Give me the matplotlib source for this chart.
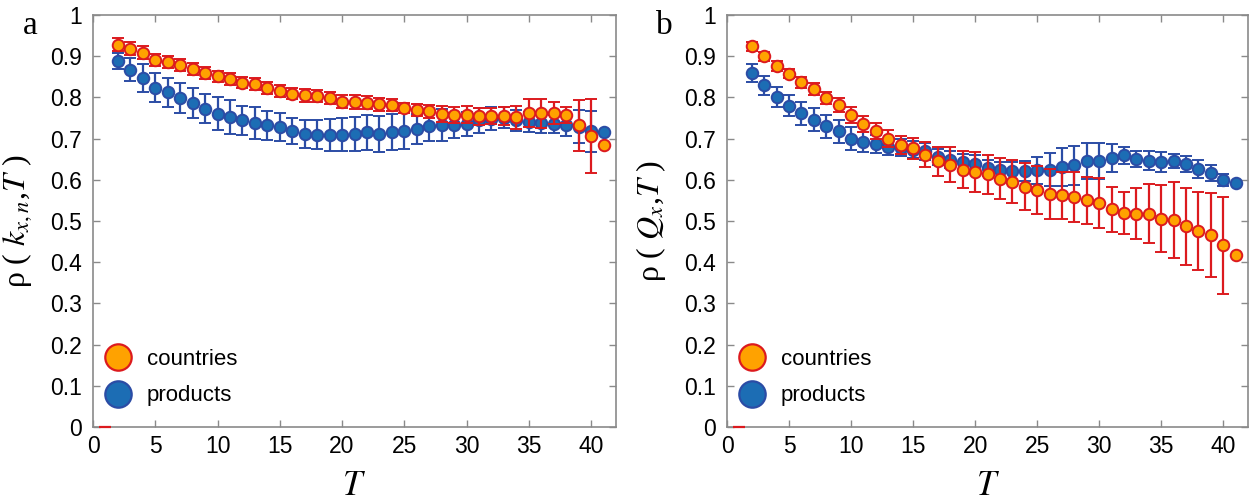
import matplotlib
matplotlib.use("Agg")
import matplotlib.pyplot as plt
from matplotlib.lines import Line2D
import numpy as np

# ---------------- data ----------------
T = list(range(2, 42))

# panel a : rho(k_{x,n}, T)
a_countries = [0.928, 0.918, 0.908, 0.891, 0.886, 0.878, 0.869, 0.859, 0.851, 0.845,
               0.836, 0.832, 0.823, 0.815, 0.809, 0.805, 0.803, 0.798, 0.790, 0.789,
               0.787, 0.783, 0.781, 0.774, 0.769, 0.766, 0.760, 0.758, 0.758, 0.754,
               0.755, 0.755, 0.752, 0.763, 0.761, 0.762, 0.757, 0.732, 0.706, 0.684]
a_countries_err = [0.016, 0.016, 0.016, 0.015, 0.015, 0.015, 0.015, 0.014, 0.014, 0.014,
                   0.014, 0.014, 0.014, 0.014, 0.014, 0.015, 0.015, 0.015, 0.016, 0.016,
                   0.016, 0.015, 0.014, 0.013, 0.015, 0.016, 0.019, 0.019, 0.020, 0.020,
                   0.020, 0.022, 0.028, 0.034, 0.035, 0.027, 0.019, 0.062, 0.090, 0.0]
a_products = [0.888, 0.867, 0.847, 0.824, 0.812, 0.798, 0.786, 0.773, 0.760, 0.753,
              0.744, 0.738, 0.732, 0.728, 0.718, 0.712, 0.709, 0.709, 0.709, 0.711,
              0.715, 0.712, 0.716, 0.718, 0.723, 0.731, 0.732, 0.732, 0.736, 0.744,
              0.748, 0.751, 0.744, 0.740, 0.739, 0.736, 0.732, 0.729, 0.718, 0.715]
a_products_err = [0.019, 0.028, 0.034, 0.036, 0.036, 0.036, 0.036, 0.035, 0.040, 0.041,
                  0.036, 0.039, 0.036, 0.034, 0.032, 0.034, 0.035, 0.038, 0.040, 0.041,
                  0.043, 0.044, 0.044, 0.044, 0.037, 0.037, 0.039, 0.030, 0.029, 0.031,
                  0.028, 0.025, 0.025, 0.025, 0.025, 0.022, 0.025, 0.040, 0.050, 0.0]

# panel b : rho(Q_x, T)
b_countries = [0.924, 0.900, 0.877, 0.858, 0.837, 0.821, 0.799, 0.781, 0.757, 0.736,
               0.718, 0.700, 0.685, 0.676, 0.661, 0.645, 0.637, 0.625, 0.619, 0.613,
               0.603, 0.595, 0.583, 0.575, 0.566, 0.562, 0.558, 0.550, 0.544, 0.528,
               0.519, 0.518, 0.518, 0.506, 0.502, 0.487, 0.476, 0.465, 0.441, 0.418]
b_countries_err = [0.011, 0.011, 0.012, 0.012, 0.013, 0.014, 0.015, 0.017, 0.019, 0.020,
                   0.020, 0.021, 0.022, 0.025, 0.030, 0.035, 0.042, 0.046, 0.048, 0.047,
                   0.050, 0.052, 0.057, 0.058, 0.061, 0.058, 0.060, 0.057, 0.060, 0.054,
                   0.051, 0.061, 0.071, 0.082, 0.093, 0.093, 0.095, 0.102, 0.117, 0.0]
b_products = [0.859, 0.829, 0.801, 0.780, 0.761, 0.746, 0.730, 0.718, 0.700, 0.692,
              0.686, 0.680, 0.678, 0.673, 0.669, 0.655, 0.649, 0.643, 0.639, 0.629,
              0.623, 0.621, 0.621, 0.623, 0.625, 0.631, 0.635, 0.645, 0.646, 0.653,
              0.659, 0.651, 0.646, 0.643, 0.646, 0.639, 0.627, 0.616, 0.599, 0.592]
b_products_err = [0.022, 0.024, 0.025, 0.026, 0.027, 0.028, 0.028, 0.028, 0.027, 0.025,
                  0.022, 0.020, 0.020, 0.020, 0.020, 0.020, 0.020, 0.020, 0.020, 0.020,
                  0.020, 0.022, 0.025, 0.033, 0.040, 0.045, 0.047, 0.044, 0.043, 0.035,
                  0.020, 0.020, 0.023, 0.025, 0.017, 0.019, 0.022, 0.019, 0.015, 0.0]

# stray countries mark at T = 1 (value 0)
T_stray = [1]
stray_val = [0.0]

series_names = ["countries", "products"]
x_ticks = [0, 5, 10, 15, 20, 25, 30, 35, 40]
y_ticks = [0, 0.1, 0.2, 0.3, 0.4, 0.5, 0.6, 0.7, 0.8, 0.9, 1]
y_tick_labels = ["0", "0.1", "0.2", "0.3", "0.4", "0.5", "0.6", "0.7", "0.8", "0.9", "1"]

# ---------------- style ----------------
plt.rcParams["font.family"] = ["Liberation Sans", "DejaVu Sans"]
plt.rcParams["mathtext.fontset"] = "stix"

ORANGE = "#FFA200"
RED = "#DC1A1E"
BLUE = "#1C6DB4"
DBLUE = "#2B4CA5"
GRAY = "#8A8A8A"
SERIF = ["Liberation Serif", "DejaVu Serif"]

fig = plt.figure(figsize=(12.49, 5.0), dpi=100)
ax_a = fig.add_axes([93 / 1249, 1 - 427 / 500, 523 / 1249, 412 / 500])
ax_b = fig.add_axes([727 / 1249, 1 - 427 / 500, 521 / 1249, 412 / 500])

panels = [
    (ax_a, a_countries, a_countries_err, a_products, a_products_err,
     r"ρ ( $k_{x,n}$,$T$ )", "a"),
    (ax_b, b_countries, b_countries_err, b_products, b_products_err,
     r"ρ ( $Q_x$,$T$ )", "b"),
]

for ax, c_val, c_err, p_val, p_err, ylab, letter in panels:
    ax.errorbar(T, p_val, yerr=p_err, fmt="o", ms=8.3, mfc=BLUE, mec=DBLUE, mew=1.4,
                ecolor=DBLUE, elinewidth=1.6, capsize=4.5, capthick=1.6, zorder=2)
    ax.errorbar(T, c_val, yerr=c_err, fmt="o", ms=8.3, mfc=ORANGE, mec=RED, mew=1.4,
                ecolor=RED, elinewidth=1.6, capsize=4.5, capthick=1.6, zorder=3)
    ax.plot(T_stray, stray_val, ls="", marker="_", ms=9, mew=1.6, color=RED,
            zorder=3, clip_on=False)

    ax.set_xlim(0, 42)
    ax.set_ylim(0, 1)
    ax.set_xticks(x_ticks)
    ax.set_yticks(y_ticks)
    ax.set_yticklabels(y_tick_labels)
    ax.tick_params(direction="in", length=5, width=1, color=GRAY, top=True, right=True,
                   labelsize=16.5)
    ax.tick_params(axis="y", pad=8)
    ax.tick_params(axis="x", pad=6)
    for sp in ax.spines.values():
        sp.set_color(GRAY)
        sp.set_linewidth(1.2)

    ax.set_xlabel("$T$", fontsize=25, va="center")
    ax.xaxis.set_label_coords(0.5, -0.141)
    ax.set_ylabel(ylab, fontsize=23, family=SERIF)
    ax.yaxis.set_label_coords(-0.113, 0.5)

    ax.text(-0.12, 0.975, letter, transform=ax.transAxes, fontsize=24, family=SERIF,
            ha="center", va="center")

    handles = [
        Line2D([], [], ls="", marker="o", ms=19, mfc=ORANGE, mec=RED, mew=1.6),
        Line2D([], [], ls="", marker="o", ms=19, mfc=BLUE, mec=DBLUE, mew=1.6),
    ]
    ax.legend(handles, series_names, loc="lower left", bbox_to_anchor=(0.02, 0.05),
              frameon=False, fontsize=16, borderpad=0, borderaxespad=0,
              handlelength=1.3, handletextpad=0.64, labelspacing=0.7)

fig.savefig("out.png", dpi=100)
